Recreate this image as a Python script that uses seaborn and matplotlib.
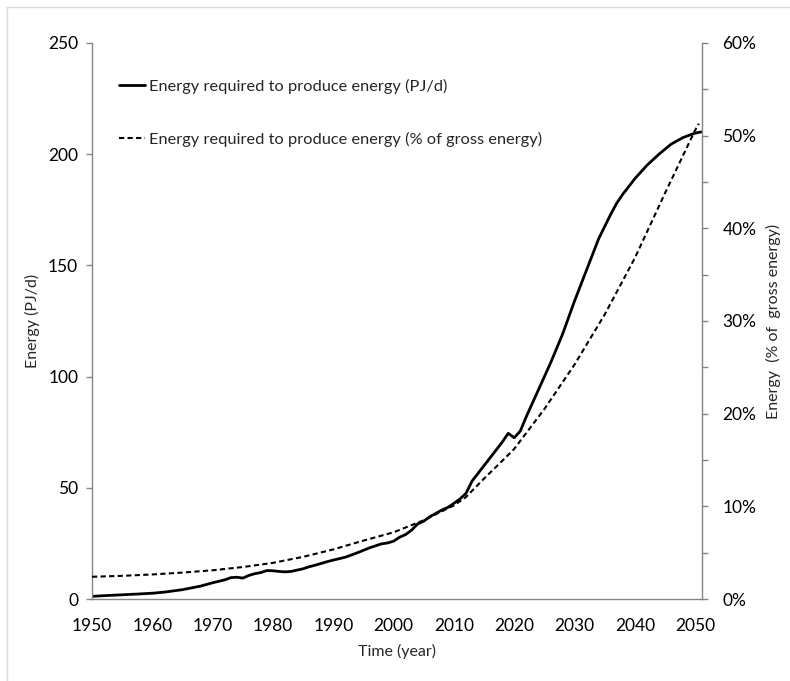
import matplotlib
matplotlib.use("Agg")
import matplotlib.pyplot as plt
from matplotlib.lines import Line2D
from matplotlib.ticker import MultipleLocator, PercentFormatter
import seaborn as sns
import pandas as pd

# energy required to produce energy, PJ/d (left axis)
years_pj = [1950, 1952, 1955, 1958, 1960, 1962, 1965, 1968, 1970, 1972, 1973, 1974,
            1975, 1976, 1977, 1978, 1979, 1980, 1981, 1982, 1983, 1984, 1985, 1986,
            1987, 1988, 1989, 1990, 1992, 1994, 1996, 1998, 1999, 2000, 2001, 2002,
            2003, 2004, 2005, 2006, 2007, 2008, 2009, 2010, 2011, 2012, 2013, 2014,
            2015, 2016, 2017, 2018, 2019, 2020, 2021, 2022, 2024, 2026, 2028, 2030,
            2032, 2034, 2036, 2037, 2038, 2039, 2040, 2042, 2044, 2046, 2048, 2050, 2051]
energy_pj = [1.2, 1.5, 1.9, 2.3, 2.6, 3.1, 4.2, 5.8, 7.3, 8.6, 9.6, 9.8,
             9.4, 10.6, 11.4, 11.9, 12.8, 12.7, 12.4, 12.2, 12.4, 13.0, 13.6, 14.5,
             15.2, 16.0, 16.8, 17.5, 18.8, 20.8, 23.0, 24.8, 25.2, 26.0, 27.8, 29.0,
             31.0, 33.8, 35.0, 37.0, 38.5, 40.0, 41.2, 43.0, 45.0, 47.5, 53.0, 56.5,
             60.0, 63.5, 67.0, 70.5, 74.5, 72.5, 75.5, 82.0, 94.0, 106.0, 119.0, 134.0,
             148.0, 162.0, 173.0, 178.0, 182.0, 185.5, 189.0, 195.0, 200.0, 204.5, 207.5,
             209.5, 210.0]

# energy required to produce energy, % of gross energy (right axis)
years_pct = [1950, 1955, 1960, 1965, 1970, 1975, 1980, 1985, 1990, 1995, 2000, 2005,
             2010, 2012, 2015, 2018, 2020, 2025, 2030, 2035, 2040, 2045, 2050, 2050.6]
energy_pct = [2.4, 2.5, 2.65, 2.85, 3.1, 3.45, 3.9, 4.55, 5.35, 6.3, 7.2, 8.5,
              10.1, 11.0, 13.0, 14.9, 16.2, 20.5, 25.3, 30.7, 36.8, 43.8, 50.6, 51.3]

label_pj = "Energy required to produce energy (PJ/d)"
label_pct = "Energy required to produce energy (% of gross energy)"

df_pj = pd.DataFrame({"year": years_pj, "value": energy_pj})
df_pct = pd.DataFrame({"year": years_pct, "value": [v / 100 for v in energy_pct]})

sns.set_style("white")
plt.rcParams["font.family"] = ["Lato", "DejaVu Sans"]
axis_grey = "#868686"

fig = plt.figure(figsize=(7.9, 6.81), dpi=100)
ax = fig.add_axes([0.1165, 0.1204, 0.7715, 0.8165])
ax2 = ax.twinx()

sns.lineplot(data=df_pj, x="year", y="value", ax=ax, color="black",
             linewidth=2.0, legend=False)
sns.lineplot(data=df_pct, x="year", y="value", ax=ax2, color="black",
             linewidth=1.5, linestyle=(0, (2.5, 1.6)), legend=False)

ax.set_xlim(1950, 2051.05)
ax.set_ylim(0, 250)
ax2.set_ylim(0, 0.6)
ax.xaxis.set_major_locator(MultipleLocator(10))
ax.yaxis.set_major_locator(MultipleLocator(50))
ax2.yaxis.set_major_locator(MultipleLocator(0.1))
ax2.yaxis.set_minor_locator(MultipleLocator(0.05))
ax2.yaxis.set_major_formatter(PercentFormatter(1.0, decimals=0))

for a in (ax, ax2):
    a.spines["top"].set_visible(False)
    for s in ("left", "right", "bottom"):
        a.spines[s].set_color(axis_grey)
        a.spines[s].set_linewidth(1.0)
    a.tick_params(which="both", color=axis_grey, direction="out", length=4,
                  width=1.0, labelsize=12.5, labelcolor="black", pad=6)
ax.tick_params(axis="x", pad=10)
ax2.tick_params(axis="y", pad=11)
ax.spines["right"].set_visible(False)
ax2.spines["left"].set_visible(False)
ax2.spines["bottom"].set_visible(False)

ax.set_xlabel("Time (year)", fontsize=11.5, labelpad=7)
ax.set_ylabel("Energy (PJ/d)", fontsize=11.5, labelpad=6)
ax2.set_ylabel("Energy  (% of  gross energy)", fontsize=11.5, labelpad=7)

handles = [Line2D([], [], color="black", linewidth=2.0),
           Line2D([], [], color="black", linewidth=1.5, linestyle=(0, (2.5, 1.6)))]
ax2.legend(handles, [label_pj, label_pct], loc="upper left",
           bbox_to_anchor=(0.02, 0.962), frameon=False, fontsize=11.8,
           handlelength=1.6, handletextpad=0.25, labelspacing=2.3)

# light grey frame around the chart area
fig.add_artist(Line2D([7 / 790, 1], [1 - 7 / 681, 1 - 7 / 681], color="#d9d9d9", linewidth=1))
fig.add_artist(Line2D([7 / 790, 7 / 790], [0, 1 - 7 / 681], color="#d9d9d9", linewidth=1))

fig.savefig("out.png", dpi=100)
